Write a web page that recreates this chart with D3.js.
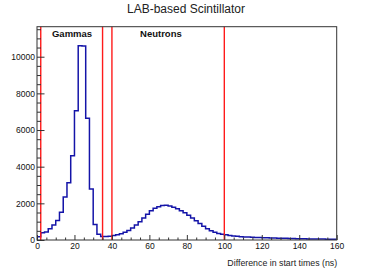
<!DOCTYPE html>
<html>
<head>
<meta charset="utf-8">
<script src="https://cdn.jsdelivr.net/npm/d3@7/dist/d3.min.js"></script>
<style>
  html, body { margin: 0; padding: 0; background: #ffffff; }
  svg { display: block; font-family: "Liberation Sans", Arial, Helvetica, sans-serif; }
</style>
</head>
<body>
<svg id="chart" width="374" height="268"></svg>
<script>
// ---- Data ----
const binEdgesStart = 0;   // first bin low edge (ns)
const binWidth = 2;        // ns
const counts = [
  180, 400, 430, 620, 820, 1060, 1520, 2350, 3130, 4600,
  7050, 10600, 10580, 6640, 2780, 850, 310, 190, 190, 210,
  240, 280, 340, 420, 520, 660, 820, 1000, 1200, 1410,
  1600, 1730, 1820, 1880, 1900, 1850, 1780, 1700, 1600, 1480,
  1350, 1200, 1050, 900, 750, 620, 500, 420, 360, 320,
  280, 250, 220, 200, 180, 170, 160, 150, 140, 130,
  125, 120, 110, 105, 100, 95, 90, 85, 80, 75,
  70, 65, 60, 58, 55, 50, 48, 45, 42, 40
];
const cutLines = [2, 35, 40, 100];
const xMajorTicks = [0, 20, 40, 60, 80, 100, 120, 140, 160];
const yMajorTicks = [0, 2000, 4000, 6000, 8000, 10000];
const regionLabels = ["Gammas", "Neutrons"];
const regionLabelX = [8, 55];   // data x (ns) where labels begin
const title = "LAB-based Scintillator";
const xTitle = "Difference in start times (ns)";

// ---- Layout ----
const svg = d3.select("#chart");
const L = 37, R = 336.7, T = 26.7, B = 240;
const x = d3.scaleLinear().domain([0, 160]).range([L, R]);
const y = d3.scaleLinear().domain([0, 11637]).range([B, T]);

// minor ticks
const xMinor = d3.range(0, 160.001, 5).filter(v => v % 20 !== 0);
const yMinor = d3.range(0, 11637, 500).filter(v => v % 2000 !== 0);

// histogram step path
const pts = [];
counts.forEach((c, i) => {
  const x0 = binEdgesStart + i * binWidth;
  pts.push([x0, c]);
  pts.push([x0 + binWidth, c]);
});
const line = d3.line().x(d => x(d[0])).y(d => y(d[1]));

// clip
svg.append("defs").append("clipPath").attr("id", "clip")
  .append("rect").attr("x", L).attr("y", T).attr("width", R - L).attr("height", B - T);

svg.append("path")
  .attr("d", line(pts))
  .attr("fill", "none")
  .attr("stroke", "#1414a8")
  .attr("stroke-width", 1.5)
  .attr("clip-path", "url(#clip)");

// red cut lines
svg.selectAll("line.cut").data(cutLines).enter().append("line")
  .attr("class", "cut")
  .attr("x1", d => x(d)).attr("x2", d => x(d))
  .attr("y1", T).attr("y2", B)
  .attr("stroke", "#ff1a1a").attr("stroke-width", 1.4);

// axes
const fs = 8.5;
svg.append("g").attr("transform", `translate(0,${B})`)
  .call(d3.axisBottom(x).tickValues(xMajorTicks).tickSize(-5).tickPadding(3).tickFormat(d3.format("d")));
svg.append("g").attr("transform", `translate(0,${B})`)
  .call(d3.axisBottom(x).tickValues(xMinor).tickSize(-2.5).tickFormat(""));
svg.append("g").attr("transform", `translate(${L},0)`)
  .call(d3.axisLeft(y).tickValues(yMajorTicks).tickSize(-7.5).tickPadding(2).tickFormat(d3.format("d")));
svg.append("g").attr("transform", `translate(${L},0)`)
  .call(d3.axisLeft(y).tickValues(yMinor).tickSize(-4).tickFormat(""));

svg.selectAll(".domain").remove();
svg.selectAll(".tick line").attr("stroke", "#333").attr("stroke-width", 1);
svg.selectAll(".tick text").attr("font-size", fs).attr("fill", "#111")
  .attr("font-family", "Liberation Sans, Arial, sans-serif");

// frame
svg.append("rect")
  .attr("x", L).attr("y", T).attr("width", R - L).attr("height", B - T)
  .attr("fill", "none").attr("stroke", "#333").attr("stroke-width", 1);

// labels
svg.append("text").attr("x", 186).attr("y", 13)
  .attr("text-anchor", "middle").attr("font-size", 12).attr("fill", "#222")
  .text(title);

svg.selectAll("text.region").data(regionLabels).enter().append("text")
  .attr("class", "region")
  .attr("x", (d, i) => x(regionLabelX[i]))
  .attr("y", 36.5)
  .attr("font-size", 9.5).attr("font-weight", "bold").attr("fill", "#111")
  .text(d => d);

svg.append("text").attr("x", R + 0.5).attr("y", 265.5)
  .attr("text-anchor", "end").attr("font-size", 8.8).attr("fill", "#222")
  .text(xTitle);
</script>
</body>
</html>
